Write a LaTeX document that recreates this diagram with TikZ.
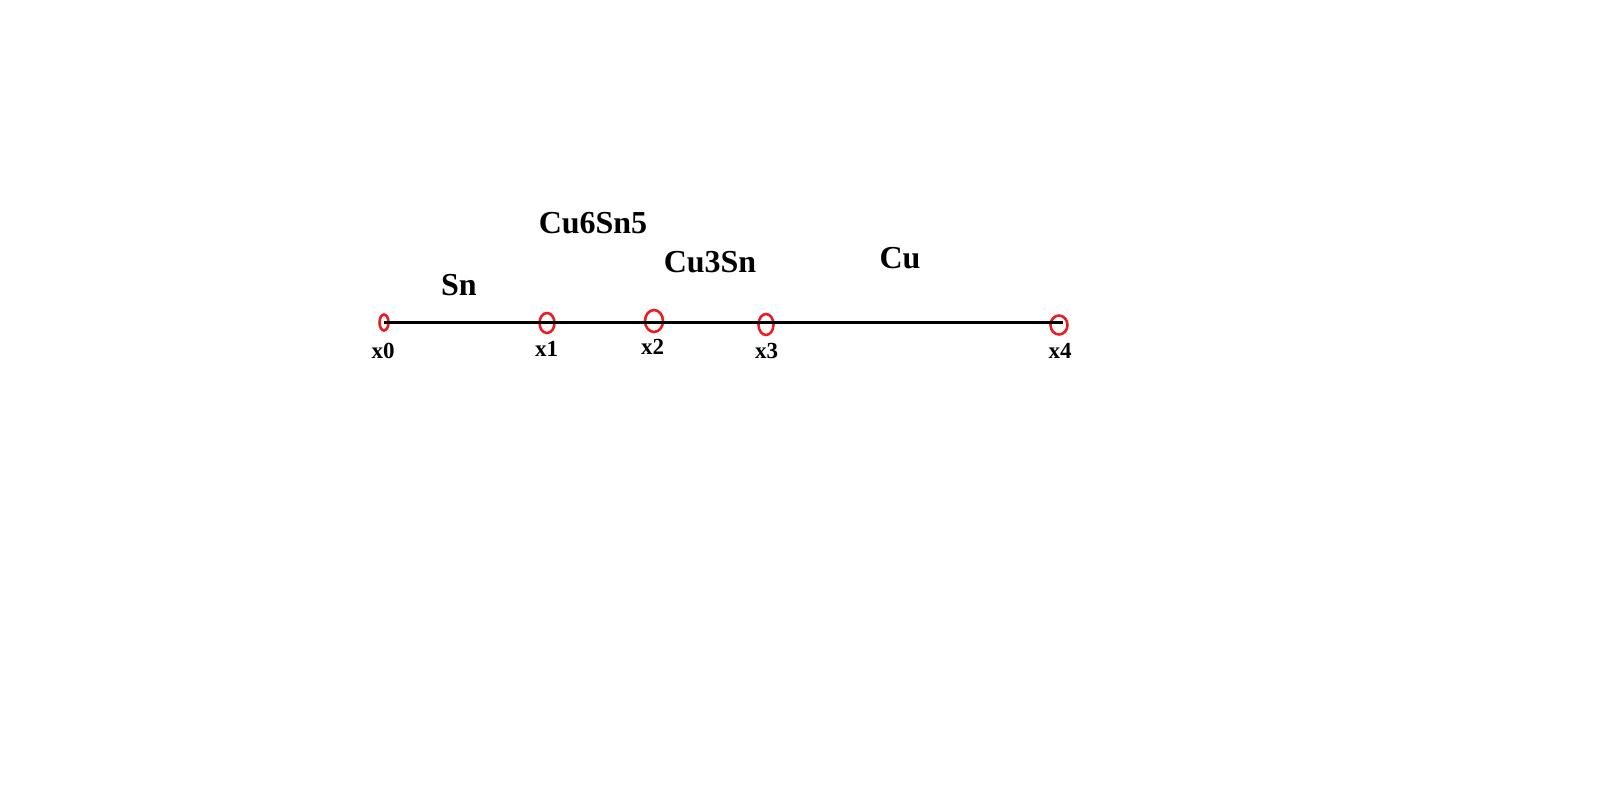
\documentclass[tikz,border=0pt]{standalone}
\usepackage{fontspec}
\setmainfont{Liberation Serif}
\usetikzlibrary{shapes.geometric}
\definecolor{paintred}{RGB}{237,28,36}
\tikzset{
  phase/.style={anchor=base, inner sep=0pt, font=\fontsize{32}{32}\selectfont\bfseries},
  xlabel/.style={anchor=base, inner sep=0pt, font=\fontsize{23}{23}\selectfont\bfseries},
  mark point/.style={ellipse, draw=paintred, line width=2.6pt, inner sep=0pt}
}
\begin{document}
\begin{tikzpicture}[x=1pt, y=-1pt]
\useasboundingbox (0,0) rectangle (1618,802);
% points on the line
\node[mark point, minimum width=9pt, minimum height=16pt] (p0) at (384,322.5) {};
\node[mark point, minimum width=15pt, minimum height=20pt] (p1) at (547,323) {};
\node[mark point, minimum width=18pt, minimum height=22pt] (p2) at (654,321) {};
\node[mark point, minimum width=15pt, minimum height=21pt] (p3) at (766,324.5) {};
\node[mark point, minimum width=17pt, minimum height=19pt] (p4) at (1059,325) {};
\coordinate (end) at (1063,322.7);
\draw[line width=3.6pt] (p0.center |- end) -- (end);
% labels
\foreach \name/\px/\py in {x0/383/359, x1/546.5/357, x2/652.5/355, x3/766.5/359, x4/1060/359}
  \node[xlabel] (l\name) at (\px,\py) {\name};
\node[phase] (sn) at (459,296) {Sn};
\node[phase] (cu6sn5) at (593,234) {Cu6Sn5};
\node[phase] (cu3sn) at (710,273) {Cu3Sn};
\node[phase] (cu) at (900,269) {Cu};
\end{tikzpicture}
\end{document}
